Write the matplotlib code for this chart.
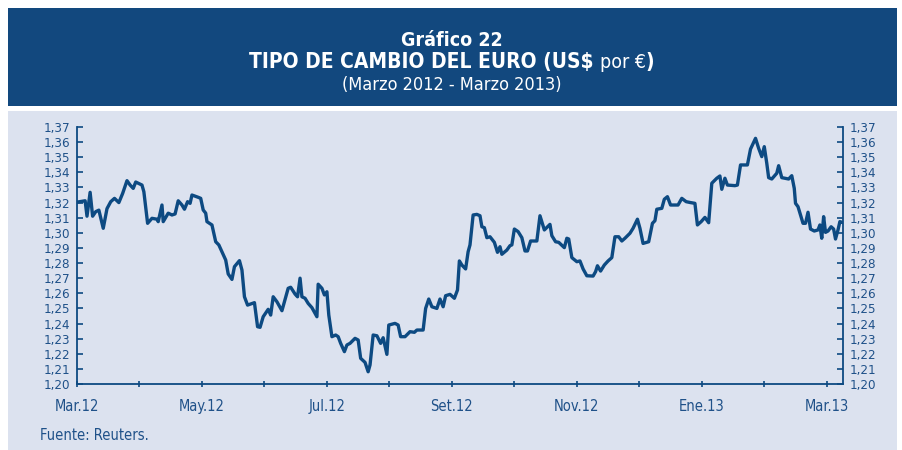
import matplotlib
matplotlib.use("Agg")
import matplotlib.pyplot as plt
from matplotlib.patches import Rectangle
from matplotlib.ticker import FixedLocator, FuncFormatter

plt.rcParams['font.family'] = ['DejaVu Sans']
plt.rcParams['font.stretch'] = 'condensed'

# posicion en meses desde el 1 de marzo de 2012
meses = [0.00, 0.13, 0.16, 0.21, 0.25, 0.30, 0.35, 0.42, 0.48, 0.54, 0.60, 0.67, 0.73, 0.80,
         0.85, 0.90, 0.94, 1.04, 1.07, 1.13, 1.20, 1.28, 1.30, 1.36, 1.38, 1.46, 1.52, 1.57,
         1.62, 1.68, 1.72, 1.77, 1.81, 1.84, 1.94, 1.98, 2.02, 2.06, 2.08, 2.16, 2.22, 2.27,
         2.32, 2.38, 2.42, 2.48, 2.52, 2.60, 2.64, 2.68, 2.73, 2.84, 2.89, 2.93, 2.98, 3.06,
         3.10, 3.14, 3.20, 3.28, 3.38, 3.42, 3.49, 3.53, 3.57, 3.60, 3.65, 3.70, 3.76, 3.84,
         3.86, 3.92, 3.96, 4.00, 4.03, 4.08, 4.14, 4.18, 4.22, 4.28, 4.32, 4.37, 4.45, 4.50,
         4.54, 4.61, 4.66, 4.69, 4.74, 4.80, 4.86, 4.90, 4.96, 4.99, 5.09, 5.14, 5.18, 5.25,
         5.33, 5.40, 5.44, 5.54, 5.58, 5.63, 5.68, 5.76, 5.81, 5.86, 5.90, 5.97, 6.04, 6.09,
         6.12, 6.16, 6.22, 6.26, 6.29, 6.34, 6.40, 6.45, 6.48, 6.52, 6.56, 6.61, 6.68, 6.73,
         6.77, 6.80, 6.88, 6.93, 6.96, 7.00, 7.06, 7.12, 7.17, 7.21, 7.26, 7.36, 7.41, 7.48,
         7.57, 7.60, 7.66, 7.71, 7.80, 7.84, 7.87, 7.92, 8.00, 8.05, 8.10, 8.16, 8.26, 8.30,
         8.33, 8.38, 8.44, 8.50, 8.56, 8.61, 8.67, 8.72, 8.77, 8.85, 8.90, 8.97, 9.01, 9.06,
         9.15, 9.21, 9.25, 9.28, 9.36, 9.40, 9.45, 9.50, 9.62, 9.68, 9.75, 9.82, 9.89, 9.93,
         9.99, 10.05, 10.11, 10.16, 10.24, 10.29, 10.32, 10.37, 10.41, 10.53, 10.57, 10.62,
         10.73, 10.78, 10.86, 10.91, 10.96, 11.00, 11.04, 11.07, 11.12, 11.20, 11.23, 11.28,
         11.39, 11.44, 11.48, 11.50, 11.54, 11.58, 11.62, 11.66, 11.70, 11.74, 11.80, 11.86,
         11.89, 11.92, 11.95, 11.98, 12.02, 12.07, 12.11, 12.14, 12.18, 12.21, 12.24]

tipo_cambio = [1.3203, 1.3212, 1.3110, 1.3268, 1.3110, 1.3140, 1.3150, 1.3030, 1.3160, 1.3206,
               1.3228, 1.3200, 1.3260, 1.3345, 1.3316, 1.3294, 1.3336, 1.3316, 1.3272, 1.3063,
               1.3096, 1.3090, 1.3074, 1.3184, 1.3074, 1.3130, 1.3118, 1.3125, 1.3212, 1.3184,
               1.3156, 1.3206, 1.3195, 1.3250, 1.3235, 1.3228, 1.3151, 1.3130, 1.3074, 1.3052,
               1.2941, 1.2920, 1.2875, 1.2820, 1.2728, 1.2692, 1.2776, 1.2816, 1.2754, 1.2577,
               1.2522, 1.2538, 1.2379, 1.2375, 1.2445, 1.2494, 1.2456, 1.2577, 1.2544, 1.2485,
               1.2633, 1.2640, 1.2595, 1.2577, 1.2700, 1.2577, 1.2567, 1.2533, 1.2505, 1.2445,
               1.2660, 1.2633, 1.2589, 1.2610, 1.2456, 1.2313, 1.2324, 1.2313, 1.2269, 1.2214,
               1.2258, 1.2269, 1.2302, 1.2291, 1.2170, 1.2143, 1.2081, 1.2126, 1.2324, 1.2319,
               1.2269, 1.2306, 1.2196, 1.2390, 1.2401, 1.2390, 1.2313, 1.2313, 1.2346, 1.2342,
               1.2357, 1.2357, 1.2500, 1.2562, 1.2511, 1.2500, 1.2562, 1.2511, 1.2584, 1.2593,
               1.2567, 1.2622, 1.2814, 1.2787, 1.2761, 1.2875, 1.2920, 1.3118, 1.3122, 1.3113,
               1.3040, 1.3034, 1.2968, 1.2974, 1.2937, 1.2871, 1.2908, 1.2858, 1.2886, 1.2915,
               1.2920, 1.3025, 1.3008, 1.2968, 1.2880, 1.2880, 1.2946, 1.2946, 1.3113, 1.3019,
               1.3056, 1.2981, 1.2941, 1.2937, 1.2902, 1.2964, 1.2959, 1.2836, 1.2809, 1.2814,
               1.2761, 1.2716, 1.2714, 1.2743, 1.2782, 1.2747, 1.2787, 1.2814, 1.2836, 1.2974,
               1.2974, 1.2946, 1.2964, 1.2997, 1.3030, 1.3090, 1.3030, 1.2930, 1.2941, 1.3063,
               1.3080, 1.3156, 1.3162, 1.3222, 1.3239, 1.3184, 1.3184, 1.3228, 1.3206, 1.3200,
               1.3195, 1.3052, 1.3074, 1.3102, 1.3067, 1.3328, 1.3361, 1.3376, 1.3288, 1.3361,
               1.3316, 1.3312, 1.3316, 1.3449, 1.3449, 1.3554, 1.3625, 1.3559, 1.3504, 1.3570,
               1.3460, 1.3365, 1.3356, 1.3394, 1.3444, 1.3365, 1.3356, 1.3378, 1.3294, 1.3195,
               1.3173, 1.3118, 1.3063, 1.3063, 1.3136, 1.3025, 1.3012, 1.3019, 1.3052, 1.2964,
               1.3107, 1.3003, 1.3012, 1.3040, 1.3025, 1.2959, 1.3019, 1.3074, 1.3070]

etiquetas_x = ["Mar.12", "May.12", "Jul.12", "Set.12", "Nov.12", "Ene.13", "Mar.13"]
marcas_y = [1.20, 1.21, 1.22, 1.23, 1.24, 1.25, 1.26, 1.27, 1.28, 1.29, 1.30,
            1.31, 1.32, 1.33, 1.34, 1.35, 1.36, 1.37]

azul = "#0d4a82"
azul_texto = "#1f5189"
fondo = "#dce2ef"

fig = plt.figure(figsize=(9.03, 4.5), dpi=100)
W, H = 903, 450

# cabecera azul y panel claro
fig.patches.append(Rectangle((8 / W, 1 - 106 / H), 889 / W, 98 / H, transform=fig.transFigure,
                             facecolor="#12487e", edgecolor="none", zorder=-2))
fig.patches.append(Rectangle((8 / W, 0), 889 / W, 1 - 111 / H, transform=fig.transFigure,
                             facecolor=fondo, edgecolor="none", zorder=-2))

fig.text(0.5, 1 - 41 / H, "Gráfico 22", color="white", fontsize=14, fontweight="bold",
         ha="center", va="center")

# titulo: parte en negrita y parte normal
t1 = fig.text(0, 1 - 62 / H, "TIPO DE CAMBIO DEL EURO (US$ ", color="white",
              fontsize=15, fontweight="bold", ha="left", va="center")
t2 = fig.text(0, 1 - 62 / H, "por €", color="white", fontsize=14, ha="left", va="center")
t3 = fig.text(0, 1 - 62 / H, ")", color="white", fontsize=15, fontweight="bold",
              ha="left", va="center")
fig.canvas.draw()
r = fig.canvas.get_renderer()
w1 = t1.get_window_extent(r).width
w2 = t2.get_window_extent(r).width
w3 = t3.get_window_extent(r).width
x0 = (W - (w1 + w2 + w3)) / 2
t1.set_x(x0 / W)
t2.set_x((x0 + w1) / W)
t3.set_x((x0 + w1 + w2) / W)

fig.text(0.5, 1 - 85 / H, "(Marzo 2012 - Marzo 2013)", color="white", fontsize=13,
         ha="center", va="center")
fig.text(40 / W, 1 - 436 / H, "Fuente: Reuters.", color=azul_texto, fontsize=10.5,
         ha="left", va="center")

ax = fig.add_axes([77 / W, 1 - 384 / H, 766 / W, 257 / H])
ax.set_zorder(2)
ax.patch.set_alpha(0)
ax.plot(meses, tipo_cambio, color=azul, linewidth=2.4, solid_joinstyle="round")

ax.set_xlim(0, 12.26)
ax.set_ylim(1.20, 1.37)
ax.xaxis.set_major_locator(FixedLocator(range(0, 13, 2)))
ax.xaxis.set_minor_locator(FixedLocator(range(1, 13, 2)))
ax.set_xticklabels(etiquetas_x)
ax.set_yticks(marcas_y)
ax.yaxis.set_major_formatter(FuncFormatter(lambda v, p: f"{v:.2f}".replace(".", ",")))

for s in ["left", "right", "bottom"]:
    ax.spines[s].set_color(azul)
    ax.spines[s].set_linewidth(1.3)
ax.spines["top"].set_visible(False)

ax.tick_params(axis="y", which="both", direction="in", length=4, width=1.2, color=azul,
               labelcolor=azul_texto, labelsize=9.5, left=True, right=True,
               labelleft=True, labelright=True, pad=5)
ax.tick_params(axis="x", which="both", direction="inout", length=5, width=1.2, color=azul,
               labelcolor=azul_texto, labelsize=10.5, pad=8)

fig.savefig("out.png", dpi=100)
